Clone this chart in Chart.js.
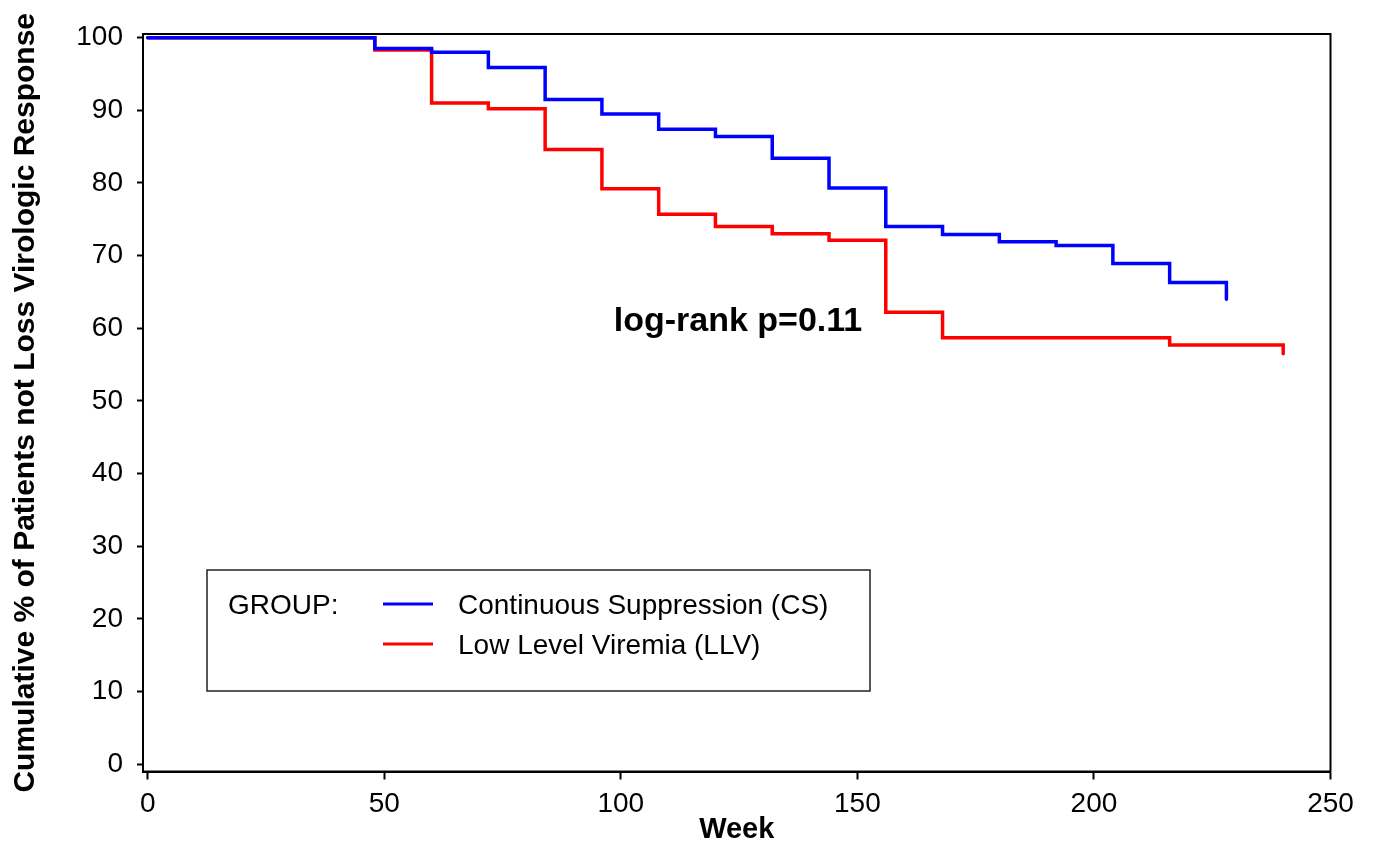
<!DOCTYPE html>
<html>
<head>
<meta charset="utf-8">
<script src="https://cdn.jsdelivr.net/npm/chart.js@4.4.1/dist/chart.umd.min.js"></script>
<style>
  html, body { margin: 0; padding: 0; background: #fff; }
  #wrap { width: 1376px; height: 848px; }
</style>
</head>
<body>
<div id="wrap"><canvas id="km"></canvas></div>
<script>
'use strict';

// Kaplan-Meier steps (week of drop, % still without loss)
var csWeeks  = [0, 48, 60, 72, 84, 96, 108, 120, 132, 144, 156, 168, 180, 192, 204, 216, 228];
var csSurv   = [100, 98.5, 98.0, 95.9, 91.5, 89.5, 87.4, 86.4, 83.4, 79.3, 74.0, 72.9, 71.9, 71.4, 68.9, 66.3, 64.0];
var llvWeeks = [0, 48, 60, 72, 84, 96, 108, 120, 132, 144, 156, 168, 216, 240];
var llvSurv  = [100, 98.3, 91.0, 90.2, 84.6, 79.2, 75.7, 74.0, 73.0, 72.1, 62.2, 58.7, 57.7, 56.5];

var xTicks = [0, 50, 100, 150, 200, 250];
var yTicks = [0, 10, 20, 30, 40, 50, 60, 70, 80, 90, 100];

var seriesNames = ['Continuous Suppression (CS)', 'Low Level Viremia (LLV)'];
var seriesColors = ['#0000ff', '#ff0000'];
var legendHeading = 'GROUP:';
var pText = 'log-rank p=0.11';

var fontFamily = '"Liberation Sans", Arial, sans-serif';

function toPoints(xs, ys) {
    return xs.map(function (x, i) { return { x: x, y: ys[i] }; });
}

// box around the plot, the group legend and the p-value note
var extrasPlugin = {
    id: 'extras',
    afterDraw: function (chart) {
        var ctx = chart.ctx;
        var a = chart.chartArea;
        ctx.save();
        ctx.strokeStyle = '#000';
        ctx.lineWidth = 2;
        ctx.strokeRect(a.left, a.top, a.right - a.left, a.bottom - a.top);

        // legend box
        var bx = 207, by = 570, bw = 663, bh = 121;
        ctx.lineWidth = 1.5;
        ctx.strokeStyle = '#222';
        ctx.strokeRect(bx, by, bw, bh);

        ctx.font = '28px ' + fontFamily;
        ctx.fillStyle = '#000';
        ctx.textBaseline = 'middle';
        ctx.textAlign = 'left';
        ctx.fillText(legendHeading, bx + 21, by + 36);
        seriesNames.forEach(function (name, i) {
            var ry = by + 34 + i * 40;
            ctx.strokeStyle = seriesColors[i];
            ctx.lineWidth = 3;
            ctx.beginPath();
            ctx.moveTo(bx + 176, ry);
            ctx.lineTo(bx + 226, ry);
            ctx.stroke();
            ctx.fillText(name, bx + 251, ry + 2);
        });

        ctx.font = 'bold 34px ' + fontFamily;
        ctx.textAlign = 'center';
        ctx.fillText(pText, 738, 322);
        ctx.restore();
    }
};

new Chart(document.getElementById('km'), {
    type: 'line',
    data: {
        datasets: [
            {
                label: seriesNames[0],
                data: toPoints(csWeeks, csSurv),
                borderColor: seriesColors[0],
                borderWidth: 3.5,
                stepped: 'before',
                pointRadius: 0,
                fill: false,
                borderCapStyle: 'round'
            },
            {
                label: seriesNames[1],
                data: toPoints(llvWeeks, llvSurv),
                borderColor: seriesColors[1],
                borderWidth: 3.5,
                stepped: 'before',
                pointRadius: 0,
                fill: false,
                borderCapStyle: 'round'
            }
        ]
    },
    options: {
        responsive: true,
        maintainAspectRatio: false,
        animation: false,
        events: [],
        layout: { padding: { left: 0, top: 34, right: 45.5, bottom: 0 } },
        plugins: {
            legend: { display: false },
            tooltip: { enabled: false }
        },
        scales: {
            x: {
                type: 'linear',
                min: -1,
                max: 250,
                afterBuildTicks: function (s) { s.ticks = xTicks.map(function (v) { return { value: v }; }); },
                afterFit: function (s) { s.height = 76.5; },
                grid: { drawOnChartArea: false, drawTicks: true, tickLength: 8, tickColor: '#000', tickWidth: 2 },
                border: { display: true, color: '#000', width: 2 },
                ticks: {
                    color: '#000',
                    padding: 8,
                    maxRotation: 0,
                    autoSkip: false,
                    font: { family: fontFamily, size: 28 }
                },
                title: {
                    display: true,
                    text: 'Week',
                    color: '#000',
                    padding: { top: 0, bottom: 1 },
                    font: { family: fontFamily, size: 29, weight: 'bold' }
                }
            },
            y: {
                min: -1,
                max: 100.5,
                afterBuildTicks: function (s) { s.ticks = yTicks.map(function (v) { return { value: v }; }); },
                afterFit: function (s) { s.width = 143; },
                grid: { drawOnChartArea: false, drawTicks: true, tickLength: 6, tickColor: '#000', tickWidth: 2 },
                border: { display: true, color: '#000', width: 2 },
                ticks: {
                    color: '#000',
                    padding: 14,
                    autoSkip: false,
                    font: { family: fontFamily, size: 28 }
                },
                title: {
                    display: true,
                    text: 'Cumulative % of Patients not Loss Virologic Response',
                    color: '#000',
                    padding: { top: 8, bottom: 0 },
                    font: { family: fontFamily, size: 30, weight: 'bold' }
                }
            }
        }
    },
    plugins: [extrasPlugin]
});
</script>
</body>
</html>
